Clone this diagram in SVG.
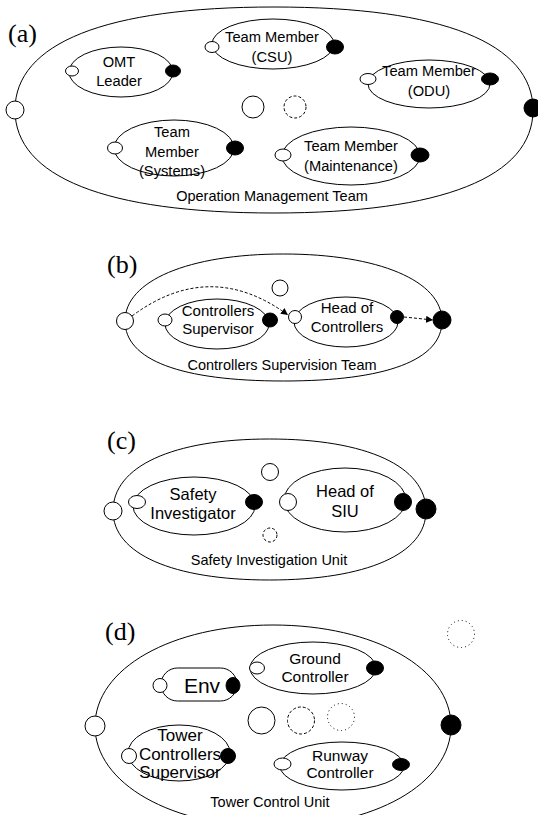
<svg xmlns="http://www.w3.org/2000/svg" width="538" height="815" viewBox="0 0 538 815">
<style>
.o{fill:#fff;stroke:#000;stroke-width:1}
.f{fill:#000;stroke:#000;stroke-width:1}
.n{fill:none;stroke:#000;stroke-width:1}
.dash{fill:none;stroke:#000;stroke-width:1;stroke-dasharray:3 2}
.dot{fill:none;stroke:#000;stroke-width:1;stroke-dasharray:1 3}
.t{font-family:"Liberation Sans",Arial,sans-serif;text-anchor:middle;fill:#000}
.lab{font-family:"Liberation Serif","Times New Roman",serif;font-size:26px;fill:#000}
.ta{font-size:14.7px}
.tb{font-size:15px}
.tc{font-size:16.5px}
.td{font-size:15.5px}
.te{font-size:17px}
.tl{font-size:14.5px}
</style>
<defs>
<marker id="ah" viewBox="0 0 10 10" refX="10" refY="5" markerWidth="7" markerHeight="7" markerUnits="userSpaceOnUse" orient="auto"><path d="M0,0 L10,5 L0,10 Z" fill="#000"/></marker>
</defs>

<!-- Panel (a) -->
<g id="panel-a">
<text class="lab" x="8" y="42">(a)</text>
<g id="omt-team">
<path class="n" d="M15,110 C15,43.05 105.65,7 274,7 C442.35,7 533,43.05 533,110 C533,176.95 442.35,213 274,213 C105.65,213 15,176.95 15,110 Z"/>
<circle class="o" cx="15" cy="110" r="9"/>
<circle class="f" cx="533" cy="108" r="9"/>
<text class="t tl" x="272" y="201">Operation Management Team</text>
</g>
<g id="omt-leader">
<ellipse class="n" cx="121" cy="72" rx="52" ry="25"/>
<ellipse class="o" cx="72" cy="71" rx="6.5" ry="5"/>
<ellipse class="f" cx="173" cy="71" rx="7.5" ry="6"/>
<text class="t ta" x="119" y="67">OMT</text>
<text class="t ta" x="119" y="86">Leader</text>
</g>
<g id="tm-csu">
<ellipse class="n" cx="273" cy="44" rx="61" ry="25"/>
<ellipse class="o" cx="212" cy="47" rx="7" ry="5.5"/>
<ellipse class="f" cx="335" cy="47" rx="8.5" ry="7"/>
<text class="t ta" x="272" y="42">Team Member</text>
<text class="t ta" x="272" y="62">(CSU)</text>
</g>
<g id="tm-odu">
<ellipse class="n" cx="429" cy="84" rx="61" ry="24"/>
<ellipse class="o" cx="368" cy="79" rx="8" ry="5.5"/>
<ellipse class="f" cx="490" cy="79" rx="8.5" ry="6"/>
<text class="t ta" x="429" y="76">Team Member</text>
<text class="t ta" x="429" y="96">(ODU)</text>
</g>
<g id="a-roles">
<circle class="o" cx="253" cy="107" r="11"/>
<circle class="dash" cx="295" cy="107" r="11"/>
</g>
<g id="tm-systems">
<ellipse class="n" cx="174" cy="148" rx="60" ry="28"/>
<ellipse class="o" cx="115" cy="148" rx="7.5" ry="6"/>
<ellipse class="f" cx="235" cy="148" rx="8.5" ry="7"/>
<text class="t ta" x="172" y="137">Team</text>
<text class="t ta" x="172" y="157">Member</text>
<text class="t ta" x="172" y="176">(Systems)</text>
</g>
<g id="tm-maint">
<ellipse class="n" cx="351" cy="156" rx="69" ry="29"/>
<ellipse class="o" cx="283" cy="155" rx="8" ry="6"/>
<ellipse class="f" cx="420" cy="155" rx="9" ry="7"/>
<text class="t ta" x="351" y="151">Team Member</text>
<text class="t ta" x="351" y="171">(Maintenance)</text>
</g>
</g>

<!-- Panel (b) -->
<g id="panel-b">
<text class="lab" x="107" y="273">(b)</text>
<g id="cs-team">
<path class="n" d="M125,321 C125,280.8 188.4,254 283.5,254 C378.6,254 442,280.8 442,321 C442,360 386.5,381 283.5,381 C180.5,381 125,360 125,321 Z"/>
<circle class="o" cx="125" cy="321" r="8.5"/>
<circle class="f" cx="442" cy="320" r="9"/>
<text class="t tl" x="282" y="370">Controllers Supervision Team</text>
</g>
<g id="b-role">
<circle class="o" cx="280" cy="288" r="8"/>
</g>
<g id="controllers-supervisor">
<ellipse class="n" cx="217" cy="324" rx="52" ry="25"/>
<ellipse class="o" cx="165" cy="320" rx="7" ry="6"/>
<ellipse class="f" cx="270" cy="320" rx="7.5" ry="7"/>
<text class="t tb" x="218" y="316">Controllers</text>
<text class="t tb" x="218" y="334">Supervisor</text>
</g>
<g id="head-of-controllers">
<ellipse class="n" cx="346" cy="322" rx="52" ry="25"/>
<circle class="o" cx="295" cy="317" r="6.5"/>
<circle class="f" cx="397" cy="317" r="6.5"/>
<text class="t tb" x="347" y="313">Head of</text>
<text class="t tb" x="347" y="332">Controllers</text>
</g>
<g id="b-connectors">
<path class="dash" d="M132,316 Q210,258 288,315" marker-end="url(#ah)"/>
<path class="dash" d="M404,317 L433,320" marker-end="url(#ah)"/>
</g>
</g>

<!-- Panel (c) -->
<g id="panel-c">
<text class="lab" x="107" y="449">(c)</text>
<g id="siu">
<path class="n" d="M113,511 C113,466.4 172.5,439 269.5,439 C366.5,439 426,466.4 426,511 C426,553.8 366.5,580 269.5,580 C172.5,580 113,553.8 113,511 Z"/>
<circle class="o" cx="113" cy="511" r="9"/>
<circle class="f" cx="426" cy="509" r="10"/>
<text class="t tl" x="269" y="565">Safety Investigation Unit</text>
</g>
<g id="c-roles">
<circle class="o" cx="270" cy="472" r="8.5"/>
<circle class="dash" cx="270" cy="535" r="7"/>
</g>
<g id="safety-investigator">
<ellipse class="n" cx="194" cy="506" rx="61" ry="29"/>
<ellipse class="o" cx="137" cy="502" rx="8.5" ry="6.5"/>
<ellipse class="f" cx="254" cy="502" rx="8.5" ry="7.5"/>
<text class="t tc" x="193" y="500">Safety</text>
<text class="t tc" x="193" y="519">Investigator</text>
</g>
<g id="head-of-siu">
<ellipse class="n" cx="345" cy="500" rx="61" ry="32"/>
<circle class="o" cx="288" cy="502" r="8.5"/>
<circle class="f" cx="403" cy="502" r="8.5"/>
<text class="t tc" x="345" y="497">Head of</text>
<text class="t tc" x="345" y="517">SIU</text>
</g>
</g>

<!-- Panel (d) -->
<g id="panel-d">
<text class="lab" x="105" y="640">(d)</text>
<circle class="dot" cx="461" cy="634" r="13.5"/>
<g id="tcu">
<path class="n" d="M95,726 C95,668.4 171.5,625 273,625 C374.5,625 451,668.4 451,726 C451,783.6 374.5,827 273,827 C171.5,827 95,783.6 95,726 Z"/>
<circle class="o" cx="95" cy="726" r="10"/>
<circle class="f" cx="451" cy="725" r="10"/>
<text class="t tl" x="270" y="807">Tower Control Unit</text>
</g>
<g id="env">
<rect class="n" x="161" y="668" width="76" height="33" rx="16.5"/>
<circle class="o" cx="160" cy="685.5" r="7"/>
<ellipse class="f" cx="233" cy="685.5" rx="7" ry="8"/>
<text class="t" style="font-size:21px" x="202" y="693">Env</text>
</g>
<g id="ground-controller">
<ellipse class="n" cx="313" cy="668" rx="63" ry="26"/>
<ellipse class="o" cx="257" cy="668" rx="7.5" ry="6"/>
<ellipse class="f" cx="375" cy="668" rx="8.5" ry="7"/>
<text class="t td" x="315" y="664">Ground</text>
<text class="t td" x="315" y="682">Controller</text>
</g>
<g id="d-roles">
<circle class="o" cx="261.5" cy="720.5" r="13.5"/>
<circle class="dash" cx="301" cy="720.5" r="13.5"/>
<circle class="dot" cx="341" cy="717" r="13.5"/>
</g>
<g id="tower-controllers-supervisor">
<ellipse class="n" cx="179" cy="753" rx="51" ry="28"/>
<circle class="o" cx="129" cy="756" r="7.5"/>
<circle class="f" cx="228" cy="756" r="7.5"/>
<text class="t te" x="180" y="741">Tower</text>
<text class="t te" x="180" y="760">Controllers</text>
<text class="t te" x="180" y="778">Supervisor</text>
</g>
<g id="runway-controller">
<ellipse class="n" cx="342" cy="766" rx="62" ry="24"/>
<ellipse class="o" cx="282.5" cy="764" rx="8.5" ry="6"/>
<ellipse class="f" cx="401" cy="764.5" rx="8.5" ry="6"/>
<text class="t td" x="340" y="761">Runway</text>
<text class="t td" x="340" y="778">Controller</text>
</g>
</g>
</svg>
